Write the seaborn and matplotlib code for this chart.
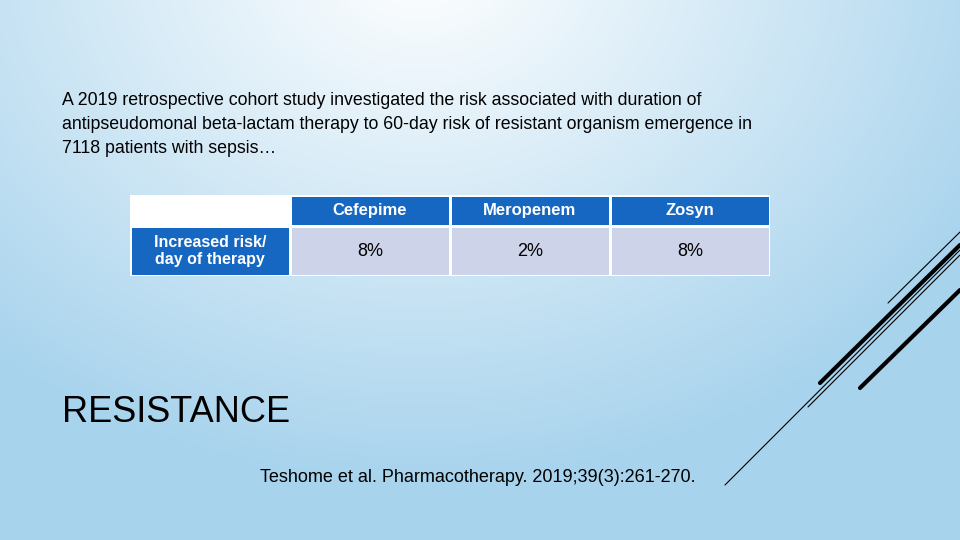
import numpy as np
import matplotlib
matplotlib.use("Agg")
import matplotlib.pyplot as plt
import seaborn as sns
from matplotlib.colors import ListedColormap
from matplotlib.lines import Line2D

row_label = "Increased risk/\nday of therapy"
drugs = ["Cefepime", "Meropenem", "Zosyn"]
risk = ["8%", "2%", "8%"]

sns.set_theme(style="white")
plt.rcParams['font.family'] = ['Liberation Sans', 'DejaVu Sans']
plt.rcParams['text.color'] = 'black'

fig = plt.figure(figsize=(9.6, 5.4), dpi=100)
bg = fig.add_axes([0, 0, 1, 1])
yy, xx = np.mgrid[0:540, 0:960]
d = np.sqrt(((xx - 420) / 650.0) ** 2 + ((yy + 40) / 520.0) ** 2)
t = np.clip(d, 0, 1)[..., None]
white = np.array([1, 1, 1]); blue = np.array([0.66, 0.83, 0.93])
img = white * (1 - t) + blue * t
bg.imshow(img, aspect='auto', extent=[0, 960, 540, 0])
bg.set_xlim(0, 960); bg.set_ylim(540, 0); bg.axis('off')

for (x0, y0, x1, y1, lw) in [(888, 303, 960, 232, 0.8), (820, 383, 960, 245, 3),
                             (860, 388, 960, 290, 3), (808, 407, 960, 255, 0.8),
                             (725, 485, 960, 250, 0.8)]:
    bg.add_line(Line2D([x0, x1], [y0, y1], color='black', lw=lw))

bg.text(62, 92, "A 2019 retrospective cohort study investigated the risk associated with duration of\n"
        "antipseudomonal beta-lactam therapy to 60-day risk of resistant organism emergence in\n"
        "7118 patients with sepsis…", fontsize=12.8, va='top', ha='left', linespacing=1.52,
        color='black')
bg.text(62, 412, "RESISTANCE", fontsize=26, va='center', ha='left', color='black')
bg.text(260, 477, "Teshome et al. Pharmacotherapy. 2019;39(3):261-270.", fontsize=13,
        va='center', ha='left', color='black')

cmap = ListedColormap(['white', '#1667c2', '#cdd3e8'])
def px(x0, y0, x1, y1):
    return [x0 / 960, 1 - y1 / 540, (x1 - x0) / 960, (y1 - y0) / 540]

ax1 = fig.add_axes(px(130, 195, 770, 226))
sns.heatmap(np.array([[0, 1, 1, 1]]), ax=ax1, cmap=cmap, vmin=0, vmax=2, cbar=False,
            annot=np.array([[""] + drugs]), fmt="", linewidths=2, linecolor='white',
            annot_kws=dict(color='white', fontsize=12, fontweight='bold'))
ax2 = fig.add_axes(px(130, 226, 770, 276))
sns.heatmap(np.array([[1, 2, 2, 2]]), ax=ax2, cmap=cmap, vmin=0, vmax=2, cbar=False,
            annot=np.array([[row_label] + risk]), fmt="", linewidths=2, linecolor='white',
            annot_kws=dict(color='black', fontsize=13))
for txt in ax2.texts[:1]:
    txt.set_color('white'); txt.set_fontweight('bold'); txt.set_fontsize(11.5)
for a in (ax1, ax2):
    a.set_xticks([]); a.set_yticks([])
fig.savefig("out.png", dpi=100)
